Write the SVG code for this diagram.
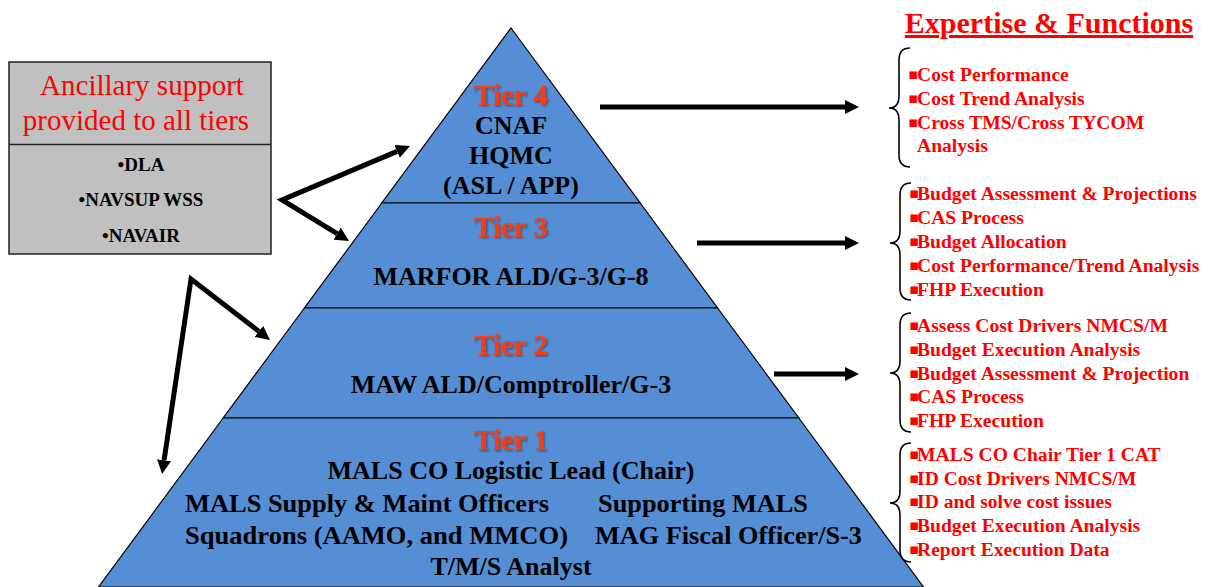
<svg xmlns="http://www.w3.org/2000/svg" width="1214" height="587" viewBox="0 0 1214 587">
<style>
.tier{fill:#558ED5;stroke:#000;stroke-width:1.2}
.tl{font-family:"Liberation Serif","Times New Roman",serif;font-weight:bold;font-size:29px;fill:#FF3A0A;text-anchor:middle;filter:url(#sh)}
.tb{font-family:"Liberation Serif","Times New Roman",serif;font-weight:bold;font-size:26px;fill:#000;text-anchor:middle}
.tbl{font-family:"Liberation Serif","Times New Roman",serif;font-weight:bold;font-size:26px;fill:#000}
.box{fill:#C0C0C0;stroke:#222;stroke-width:1.5}
.bt{font-family:"Liberation Serif","Times New Roman",serif;font-size:29px;fill:#FF0000;text-anchor:middle}
.bi{font-family:"Liberation Serif","Times New Roman",serif;font-weight:bold;font-size:19px;fill:#000;text-anchor:middle}
.li{font-family:"Liberation Serif","Times New Roman",serif;font-weight:bold;font-size:19.6px;fill:#FF0000}
.bul{font-family:"DejaVu Sans",sans-serif;font-size:15px;font-weight:normal}
.brace{fill:none;stroke:#000;stroke-width:1.6}
.ttl{font-family:"Liberation Serif","Times New Roman",serif;font-weight:bold;font-size:30px;fill:#FF0000;text-decoration:underline;text-anchor:middle}
.arr{fill:none;stroke:#000;stroke-width:5;stroke-linejoin:miter}
</style>
<defs>
<filter id="sh" x="-10%" y="-20%" width="130%" height="150%">
<feDropShadow dx="1.2" dy="1.2" stdDeviation="0.8" flood-color="#000" flood-opacity="0.45"/>
</filter>
<marker id="ah" viewBox="0 0 14 14" refX="0" refY="7" markerUnits="userSpaceOnUse" markerWidth="14" markerHeight="14" orient="auto-start-reverse">
<path d="M0,0 L14,7 L0,14 z" fill="#000"/>
</marker>
</defs>

<g id="tier4">
<polygon class="tier" points="511,28 640.2,203 381.8,203"/>
<text class="tl" x="511" y="105">Tier 4</text>
<text class="tb" x="511" y="134">CNAF</text>
<text class="tb" x="511" y="164">HQMC</text>
<text class="tb" x="511" y="194">(ASL / APP)</text>
</g>

<g id="tier3">
<polygon class="tier" points="381.8,203 640.2,203 717.6,308 304.4,308"/>
<text class="tl" x="511" y="237">Tier 3</text>
<text class="tb" x="511" y="285">MARFOR ALD/G-3/G-8</text>
</g>

<g id="tier2">
<polygon class="tier" points="304.4,308 717.6,308 798.8,418 223.2,418"/>
<text class="tl" x="511" y="355">Tier 2</text>
<text class="tb" x="511" y="393">MAW ALD/Comptroller/G-3</text>
</g>

<g id="tier1">
<polygon class="tier" points="223.2,418 798.8,418 923.5,587 98.5,587"/>
<text class="tl" x="511" y="450">Tier 1</text>
<text class="tb" x="511" y="479">MALS CO Logistic Lead (Chair)</text>
<text class="tbl" x="185" y="512" textLength="364" lengthAdjust="spacingAndGlyphs">MALS Supply &amp; Maint Officers</text>
<text class="tbl" x="598" y="512" textLength="210" lengthAdjust="spacingAndGlyphs">Supporting MALS</text>
<text class="tbl" x="185" y="544" textLength="383" lengthAdjust="spacingAndGlyphs">Squadrons (AAMO, and MMCO)</text>
<text class="tbl" x="595" y="544" textLength="267" lengthAdjust="spacingAndGlyphs">MAG Fiscal Officer/S-3</text>
<text class="tb" x="511" y="575">T/M/S Analyst</text>
</g>

<g id="ancillary">
<rect class="box" x="9" y="62" width="262" height="192"/>
<line x1="9" y1="144.5" x2="271" y2="144.5" stroke="#222" stroke-width="1.5"/>
<text class="bt" x="142" y="95">Ancillary support</text>
<text class="bt" x="136" y="130">provided to all tiers</text>
<text class="bi" x="141" y="171">•DLA</text>
<text class="bi" x="141" y="206">•NAVSUP WSS</text>
<text class="bi" x="141" y="242">•NAVAIR</text>
</g>

<g id="title">
<text class="ttl" x="1049" y="33">Expertise &amp; Functions</text>
</g>

<g id="functions4">
<path class="brace" d="M910,48 Q899,48 899,60 L899,96 Q899,108 889,108 Q899,108 899,120 L899,155 Q899,167 910,167"/>
<text class="li" y="81"><tspan class="bul" x="908" dy="-2.5">▪</tspan><tspan x="917" dy="2.5">Cost Performance</tspan></text>
<text class="li" y="105"><tspan class="bul" x="908" dy="-2.5">▪</tspan><tspan x="917" dy="2.5">Cost Trend Analysis</tspan></text>
<text class="li" y="129"><tspan class="bul" x="908" dy="-2.5">▪</tspan><tspan x="917" dy="2.5">Cross TMS/Cross TYCOM</tspan></text>
<text class="li" x="917" y="152">Analysis</text>
</g>

<g id="functions3">
<path class="brace" d="M911,183 Q900,183 900,195 L900,231 Q900,243 890,243 Q900,243 900,255 L900,288 Q900,300 911,300"/>
<text class="li" y="200"><tspan class="bul" x="909" dy="-2.5">▪</tspan><tspan x="917" dy="2.5">Budget Assessment &amp; Projections</tspan></text>
<text class="li" y="224"><tspan class="bul" x="909" dy="-2.5">▪</tspan><tspan x="917" dy="2.5">CAS Process</tspan></text>
<text class="li" y="248"><tspan class="bul" x="909" dy="-2.5">▪</tspan><tspan x="917" dy="2.5">Budget Allocation</tspan></text>
<text class="li" y="272"><tspan class="bul" x="909" dy="-2.5">▪</tspan><tspan x="917" dy="2.5">Cost Performance/Trend Analysis</tspan></text>
<text class="li" y="296"><tspan class="bul" x="909" dy="-2.5">▪</tspan><tspan x="917" dy="2.5">FHP Execution</tspan></text>
</g>

<g id="functions2">
<path class="brace" d="M911,313 Q900,313 900,325 L900,361 Q900,373 890,373 Q900,373 900,385 L900,420 Q900,432 911,432"/>
<text class="li" y="332"><tspan class="bul" x="909" dy="-2.5">▪</tspan><tspan x="917" dy="2.5">Assess Cost Drivers NMCS/M</tspan></text>
<text class="li" y="356"><tspan class="bul" x="909" dy="-2.5">▪</tspan><tspan x="917" dy="2.5">Budget Execution Analysis</tspan></text>
<text class="li" y="380"><tspan class="bul" x="909" dy="-2.5">▪</tspan><tspan x="917" dy="2.5">Budget Assessment &amp; Projection</tspan></text>
<text class="li" y="403"><tspan class="bul" x="909" dy="-2.5">▪</tspan><tspan x="917" dy="2.5">CAS Process</tspan></text>
<text class="li" y="427"><tspan class="bul" x="909" dy="-2.5">▪</tspan><tspan x="917" dy="2.5">FHP Execution</tspan></text>
</g>

<g id="functions1">
<path class="brace" d="M911,443 Q900,443 900,455 L900,491 Q900,503 890,503 Q900,503 900,515 L900,550 Q900,562 911,562"/>
<text class="li" y="461"><tspan class="bul" x="909" dy="-2.5">▪</tspan><tspan x="917" dy="2.5">MALS CO Chair Tier 1 CAT</tspan></text>
<text class="li" y="485"><tspan class="bul" x="909" dy="-2.5">▪</tspan><tspan x="917" dy="2.5">ID Cost Drivers NMCS/M</tspan></text>
<text class="li" y="508"><tspan class="bul" x="909" dy="-2.5">▪</tspan><tspan x="917" dy="2.5">ID and solve cost issues</tspan></text>
<text class="li" y="532"><tspan class="bul" x="909" dy="-2.5">▪</tspan><tspan x="917" dy="2.5">Budget Execution Analysis</tspan></text>
<text class="li" y="556"><tspan class="bul" x="909" dy="-2.5">▪</tspan><tspan x="917" dy="2.5">Report Execution Data</tspan></text>
</g>

<g id="connectors">
<path class="arr" d="M600,107 H845" marker-end="url(#ah)"/>
<path class="arr" d="M697,243 H845" marker-end="url(#ah)"/>
<path class="arr" d="M774,374 H845" marker-end="url(#ah)"/>
<path class="arr" d="M397.1,151.4 L282,200 L337.1,233.7" marker-start="url(#ah)" marker-end="url(#ah)"/>
<path class="arr" d="M258.9,331.4 L191,279 L164.1,460.2" marker-start="url(#ah)" marker-end="url(#ah)"/>
</g>
</svg>
